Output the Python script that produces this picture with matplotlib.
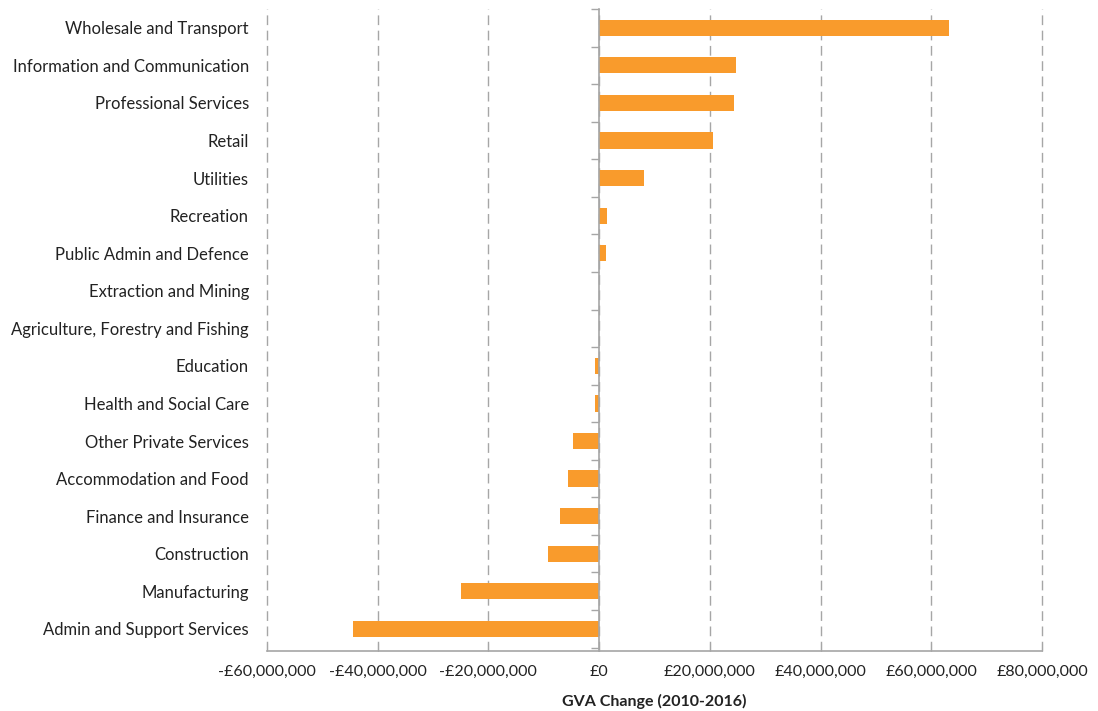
import numpy as np
import matplotlib
matplotlib.use("Agg")
import matplotlib.pyplot as plt
from matplotlib.ticker import FuncFormatter, FixedLocator

plt.rcParams['font.family'] = ['Lato', 'DejaVu Sans']

sectors = ["Wholesale and Transport", "Information and Communication",
           "Professional Services", "Retail", "Utilities", "Recreation",
           "Public Admin and Defence", "Extraction and Mining",
           "Agriculture, Forestry and Fishing", "Education",
           "Health and Social Care", "Other Private Services",
           "Accommodation and Food", "Finance and Insurance",
           "Construction", "Manufacturing", "Admin and Support Services"]
gva_change = [63.2e6, 24.7e6, 24.4e6, 20.6e6, 8.1e6, 1.45e6, 1.3e6, 0.0, 0.0,
              -0.7e6, -0.7e6, -4.7e6, -5.7e6, -7.0e6, -9.3e6, -24.9e6, -44.4e6]
x_ticks = [-60e6, -40e6, -20e6, 0, 20e6, 40e6, 60e6, 80e6]

bar_col = '#F99B2C'
grey = '#A6A6A6'

fig = plt.figure(figsize=(10.98, 7.11), dpi=100)
ax = fig.add_axes([267/1098, 60/711, (1042-267)/1098, (651-9)/711])

ypos = np.arange(len(sectors))
ax.barh(ypos, gva_change, height=0.43, color=bar_col, zorder=3)
ax.set_ylim(len(sectors)-0.41, -0.5)
ax.set_xlim(x_ticks[0], x_ticks[-1])

ax.set_yticks(ypos)
ax.set_yticklabels(sectors, fontsize=12, color='#222222')
ax.tick_params(axis='y', length=0, pad=13)

ax.set_xticks(x_ticks)
ax.xaxis.set_major_formatter(FuncFormatter(
    lambda v, p: '£0' if v == 0 else ('-£{:,.0f}'.format(-v) if v < 0 else '£{:,.0f}'.format(v))))
ax.tick_params(axis='x', direction='in', length=6, color=grey, labelsize=11.5,
               labelcolor='#222222', pad=10)
ax.grid(axis='x', color=grey, linestyle=(0, (7, 4)), linewidth=1.0, zorder=0)
for gl in ax.get_xgridlines():
    gl.set_clip_on(False)

for s in ['left', 'right', 'top']:
    ax.spines[s].set_visible(False)
ax.spines['bottom'].set_color(grey)
ax.spines['bottom'].set_linewidth(1.2)

# zero line with category-boundary ticks
zero_frac = (0 - x_ticks[0]) / (x_ticks[-1] - x_ticks[0])
sec = ax.secondary_yaxis(zero_frac)
sec.yaxis.set_major_locator(FixedLocator(np.arange(-0.5, len(sectors), 1.0)))
sec.tick_params(axis='y', length=6, color=grey, labelleft=False, width=1.0)
sec.spines['left'].set_color(grey)
sec.spines['left'].set_linewidth(1.2)
sec.set_zorder(4)

ax.set_xlabel('GVA Change (2010-2016)', fontsize=11.5, fontweight='bold',
              color='#222222', labelpad=11)

fig.savefig('out.png', dpi=100)
